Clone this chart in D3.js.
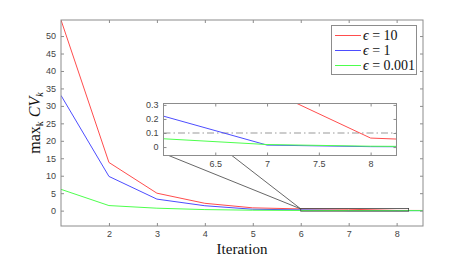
<!DOCTYPE html>
<html>
<head>
<meta charset="utf-8">
<script src="https://cdn.jsdelivr.net/npm/d3@7"></script>
<style>
  body { margin: 0; background: #fff; }
  .tick text { font-family: "Liberation Sans", Arial, sans-serif; fill: #444; }
</style>
</head>
<body>
<svg id="viz" width="467" height="259"></svg>
<script>
// values
var iterations = [1, 2, 3, 4, 5, 6, 7, 8, 9];
var cvEps10 = [54.6, 13.8, 5.0, 2.1, 0.8, 0.5, 0.41, 0.064, 0.036];
var cvEps1 = [33.0, 9.8, 3.3, 1.4, 0.4, 0.22, 0.014, 0.003, 0.001];
var cvEps0001 = [6.1, 1.45, 0.7, 0.3, 0.12, 0.059, 0.018, 0.006, 0.002];
var seriesNames = ["\u03f5 = 10", "\u03f5 = 1", "\u03f5 = 0.001"];
var seriesColors = ["#ff4d4d", "#4d4dff", "#4dff4d"];
var xTicks = [2, 3, 4, 5, 6, 7, 8];
var yTicks = [0, 5, 10, 15, 20, 25, 30, 35, 40, 45, 50];
var insetXTicks = [6.5, 7, 7.5, 8];
var insetYTicks = [0, 0.1, 0.2, 0.3];
var threshold = 0.1;

var chart = {};
chart.svg = d3.select("#viz");
chart.box = { left: 61, top: 20, right: 423, bottom: 226 };
chart.inset = { left: 163.5, top: 103.5, right: 396.5, bottom: 155.5 };

var series = [cvEps10, cvEps1, cvEps0001].map(function (vals, i) {
    return { name: seriesNames[i], color: seriesColors[i],
             pts: vals.map(function (v, j) { return { x: iterations[j], y: v }; }) };
});

// main axes
var x = d3.scaleLinear().domain([1, 8.55]).range([chart.box.left, chart.box.right]);
var y = d3.scaleLinear().domain([-4.4, 54.6]).range([chart.box.bottom, chart.box.top]);

var axisCol = "#8c8c8c";

function frame(g, xs, ys, xt, yt, fmtX, fmtY) {
    var r = xs.range(), d = ys.range();
    g.append("g").attr("transform", "translate(0," + d[0] + ")")
        .call(d3.axisBottom(xs).tickValues(xt).tickSize(-3).tickPadding(5).tickFormat(fmtX));
    g.append("g").attr("transform", "translate(0," + d[1] + ")")
        .call(d3.axisTop(xs).tickValues(xt).tickSize(-3).tickFormat(""));
    g.append("g").attr("transform", "translate(" + r[0] + ",0)")
        .call(d3.axisLeft(ys).tickValues(yt).tickSize(-3).tickPadding(5).tickFormat(fmtY));
    g.append("g").attr("transform", "translate(" + r[1] + ",0)")
        .call(d3.axisRight(ys).tickValues(yt).tickSize(-3).tickFormat(""));
    g.selectAll(".domain").remove();
    g.selectAll(".tick line").attr("stroke", axisCol);
    g.selectAll(".tick text").attr("font-size", 9);
    g.append("rect").attr("x", r[0]).attr("y", d[1])
        .attr("width", r[1] - r[0]).attr("height", d[0] - d[1])
        .attr("fill", "none").attr("stroke", axisCol).attr("stroke-width", 1);
}

var main = chart.svg.append("g");
main.append("clipPath").attr("id", "clipMain").append("rect")
    .attr("x", chart.box.left).attr("y", chart.box.top)
    .attr("width", chart.box.right - chart.box.left).attr("height", chart.box.bottom - chart.box.top);

var line = d3.line().x(function (d) { return x(d.x); }).y(function (d) { return y(d.y); });
main.append("g").attr("clip-path", "url(#clipMain)")
    .selectAll("path").data(series).enter().append("path")
    .attr("d", function (d) { return line(d.pts); })
    .attr("fill", "none").attr("stroke", function (d) { return d.color; })
    .attr("stroke-width", 1);

frame(main, x, y, xTicks, yTicks, d3.format("d"), d3.format("d"));

// zoom rectangle in the main plot
var ix = d3.scaleLinear().domain([6, 8.25]).range([chart.inset.left, chart.inset.right]);
var iy = d3.scaleLinear().domain([-0.06, 0.31]).range([chart.inset.bottom, chart.inset.top]);
main.append("rect")
    .attr("x", x(6)).attr("y", y(0.6))
    .attr("width", x(8.25) - x(6)).attr("height", y(-0.15) - y(0.6))
    .attr("fill", "none").attr("stroke", "#404040").attr("stroke-width", 0.8);

// connector lines from inset to zoom rectangle
[6.05, 6.66].forEach(function (v) {
    main.append("line")
        .attr("x1", ix(v)).attr("y1", chart.inset.bottom)
        .attr("x2", x(6)).attr("y2", y(0.5))
        .attr("stroke", "#404040").attr("stroke-width", 0.8);
});

// inset
var ins = chart.svg.append("g");
ins.append("rect").attr("x", chart.inset.left).attr("y", chart.inset.top)
    .attr("width", chart.inset.right - chart.inset.left)
    .attr("height", chart.inset.bottom - chart.inset.top).attr("fill", "#fff");
ins.append("clipPath").attr("id", "clipInset").append("rect")
    .attr("x", chart.inset.left).attr("y", chart.inset.top)
    .attr("width", chart.inset.right - chart.inset.left)
    .attr("height", chart.inset.bottom - chart.inset.top);
ins.append("line")
    .attr("x1", chart.inset.left).attr("x2", chart.inset.right)
    .attr("y1", iy(threshold)).attr("y2", iy(threshold))
    .attr("stroke", "#999").attr("stroke-width", 1).attr("stroke-dasharray", "7,3,1.5,3");
var iline = d3.line().x(function (d) { return ix(d.x); }).y(function (d) { return iy(d.y); });
ins.append("g").attr("clip-path", "url(#clipInset)")
    .selectAll("path").data(series).enter().append("path")
    .attr("d", function (d) { return iline(d.pts); })
    .attr("fill", "none").attr("stroke", function (d) { return d.color; })
    .attr("stroke-width", 1);
frame(ins, ix, iy, insetXTicks, insetYTicks, function (d) { return String(d); }, function (d) { return String(d); });

// legend
var leg = chart.svg.append("g");
leg.append("rect").attr("x", 331.5).attr("y", 25.5).attr("width", 85).attr("height", 49)
    .attr("fill", "#fff").attr("stroke", "#8c8c8c");
series.forEach(function (s, i) {
    var ly = Math.round(35 + i * 15.2) + 0.5;
    leg.append("path").attr("d", "M335," + ly + "H361")
        .attr("fill", "none").attr("stroke", s.color).attr("stroke-width", 1);
    leg.append("text").attr("x", 363).attr("y", ly + 4.5)
        .attr("font-family", "'Liberation Serif', 'DejaVu Serif', serif").attr("font-size", 14)
        .attr("fill", "#111")
        .html("<tspan font-style='italic'>\u03f5</tspan> = " + s.name.split("= ")[1]);
});

// axis labels
chart.svg.append("text").attr("x", 242).attr("y", 254).attr("text-anchor", "middle")
    .attr("font-family", "'Liberation Serif', 'DejaVu Serif', serif").attr("font-size", 15)
    .attr("fill", "#111").text("Iteration");
chart.svg.append("text")
    .attr("transform", "translate(40,123) rotate(-90)").attr("text-anchor", "middle")
    .attr("font-family", "'Liberation Serif', 'DejaVu Serif', serif").attr("font-size", 16)
    .attr("fill", "#111")
    .html("max<tspan font-size='10' dy='3'>k</tspan><tspan dy='-3'> </tspan><tspan font-style='italic'>CV</tspan><tspan font-style='italic' font-size='10' dy='3'>k</tspan>");
</script>
</body>
</html>
